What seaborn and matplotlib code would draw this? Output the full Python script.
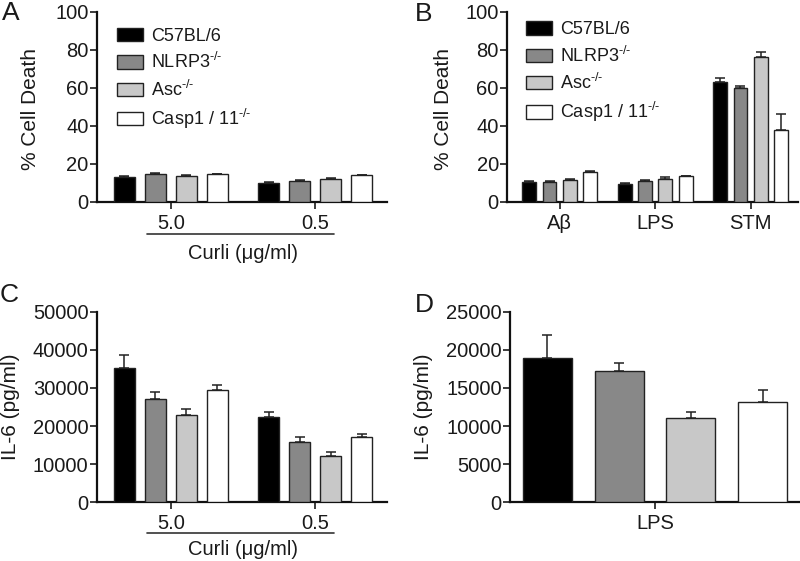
import numpy as np
import pandas as pd
import matplotlib
matplotlib.use("Agg")
import matplotlib.pyplot as plt
import seaborn as sns

# %%
# values (mean, upper error)
genotypes = ["C57BL/6", "NLRP3$^{\\text{-/-}}$", "Asc$^{\\text{-/-}}$", "Casp1 / 11$^{\\text{-/-}}$"]
colors = ["#000000", "#888888", "#c8c8c8", "#ffffff"]

a_groups = ["5.0", "0.5"]
a_mean = [[13.0, 10.2], [14.5, 11.0], [13.6, 12.2], [14.5, 14.0]]
a_err = [[0.4, 0.4], [0.5, 0.4], [0.6, 0.2], [0.3, 0.3]]

b_groups = ["A\u03b2", "LPS", "STM"]
b_mean = [[10.7, 9.5, 63.0], [10.6, 11.2, 60.0], [11.6, 12.2, 76.0], [15.6, 13.4, 38.0]]
b_err = [[0.3, 0.4, 2.3], [0.3, 0.3, 1.2], [0.4, 0.7, 3.0], [0.7, 0.3, 8.5]]

c_groups = ["5.0", "0.5"]
c_mean = [[35200, 22300], [27200, 15700], [23000, 12200], [29500, 17000]]
c_err = [[3500, 1500], [1800, 1300], [1400, 900], [1400, 900]]

d_groups = ["LPS"]
d_mean = [[18900], [17200], [11000], [13200]]
d_err = [[3000], [1100], [900], [1600]]


def long_df(groups, means):
    rows = []
    for g, vals in zip(genotypes, means):
        for grp, v in zip(groups, vals):
            rows.append({"group": grp, "genotype": g, "value": v})
    return pd.DataFrame(rows)


# %%
sns.set_style("ticks")
plt.rcParams["font.family"] = ["Liberation Sans", "DejaVu Sans"]
plt.rcParams["mathtext.fontset"] = "custom"
plt.rcParams["mathtext.rm"] = "Liberation Sans"
plt.rcParams["mathtext.it"] = "Liberation Sans"
plt.rcParams["text.color"] = "#1a1a1a"
plt.rcParams["axes.labelcolor"] = "#1a1a1a"
plt.rcParams["xtick.color"] = "#1a1a1a"
plt.rcParams["ytick.color"] = "#1a1a1a"

fig = plt.figure(figsize=(8, 5.61), dpi=100)
axA = fig.add_axes([0.121, 0.640, 0.363, 0.339])
axB = fig.add_axes([0.634, 0.640, 0.364, 0.339])
axC = fig.add_axes([0.121, 0.105, 0.363, 0.339])
axD = fig.add_axes([0.6375, 0.105, 0.3625, 0.339])


def panel(ax, groups, means, errs, width):
    df = long_df(groups, means)
    sns.barplot(data=df, x="group", y="value", hue="genotype", order=groups,
                hue_order=genotypes, palette=colors, errorbar=None, width=width,
                gap=0.32, edgecolor="#222222", linewidth=1.0, legend=False,
                ax=ax, zorder=3)
    for cont, err in zip(ax.containers, errs):
        xs = [p.get_x() + p.get_width() / 2 for p in cont.patches]
        ys = [p.get_height() for p in cont.patches]
        ax.errorbar(xs, ys, yerr=[np.zeros(len(err)), err], fmt="none",
                    ecolor="#222222", elinewidth=1.1, capsize=3.8,
                    capthick=1.1, zorder=2)
    sns.despine(ax=ax)
    for s in ["left", "bottom"]:
        ax.spines[s].set_linewidth(1.6)
        ax.spines[s].set_color("#111111")
    ax.tick_params(axis="both", labelsize=14.5, length=5, width=1.2)
    ax.tick_params(axis="y", pad=1)
    ax.set_xlabel("")


panel(axA, a_groups, a_mean, a_err, 0.86)
axA.set_ylim(0, 100)
axA.set_yticks(np.arange(0, 101, 20))
axA.set_xlim(-0.514, 1.5)
axA.set_ylabel("% Cell Death", fontsize=15)
axA.yaxis.set_label_coords(-0.197, 0.49)

panel(axB, b_groups, b_mean, b_err, 0.855)
axB.set_ylim(0, 100)
axB.set_yticks(np.arange(0, 101, 20))
axB.set_xlim(-0.55, 2.5)
axB.set_ylabel("% Cell Death", fontsize=15)
axB.yaxis.set_label_coords(-0.185, 0.49)

panel(axC, c_groups, c_mean, c_err, 0.86)
axC.set_ylim(0, 50000)
axC.set_yticks(np.arange(0, 50001, 10000))
axC.set_xlim(-0.514, 1.5)
axC.set_ylabel("IL-6 (pg/ml)", fontsize=15)
axC.yaxis.set_label_coords(-0.266, 0.5)

panel(axD, d_groups, d_mean, d_err, 0.99)
axD.set_ylim(0, 25000)
axD.set_yticks(np.arange(0, 25001, 5000))
axD.set_xlim(-0.5, 0.5)
axD.set_ylabel("IL-6 (pg/ml)", fontsize=15)
axD.yaxis.set_label_coords(-0.266, 0.5)

# legends
for ax, anchor in [(axA, (0.07, 0.915)), (axB, (0.065, 0.95))]:
    ax.legend(handles=ax.containers[:4], labels=genotypes, loc="upper left",
              bbox_to_anchor=anchor, frameon=False, fontsize=13,
              handlelength=1.45, handleheight=0.75, labelspacing=0.4,
              handletextpad=0.45, borderaxespad=0, borderpad=0)

# Curli concentration bracket
for ax, line_y, text_y in [(axA, -0.168, -0.222), (axC, -0.163, -0.2)]:
    tr = ax.get_xaxis_transform()
    ax.plot([-0.167, 1.13], [line_y, line_y], color="#333333", lw=1.2,
            transform=tr, clip_on=False)
    ax.text(0.5, text_y, "Curli (\u03bcg/ml)", transform=tr, ha="center",
            va="top", fontsize=14.5)

# panel letters
fig.text(0.002, 0.998, "A", fontsize=19, va="top", ha="left")
fig.text(0.518, 0.997, "B", fontsize=19, va="top", ha="left")
fig.text(0.000, 0.496, "C", fontsize=19, va="top", ha="left")
fig.text(0.518, 0.477, "D", fontsize=19, va="top", ha="left")

fig.savefig("out.png", dpi=100)
